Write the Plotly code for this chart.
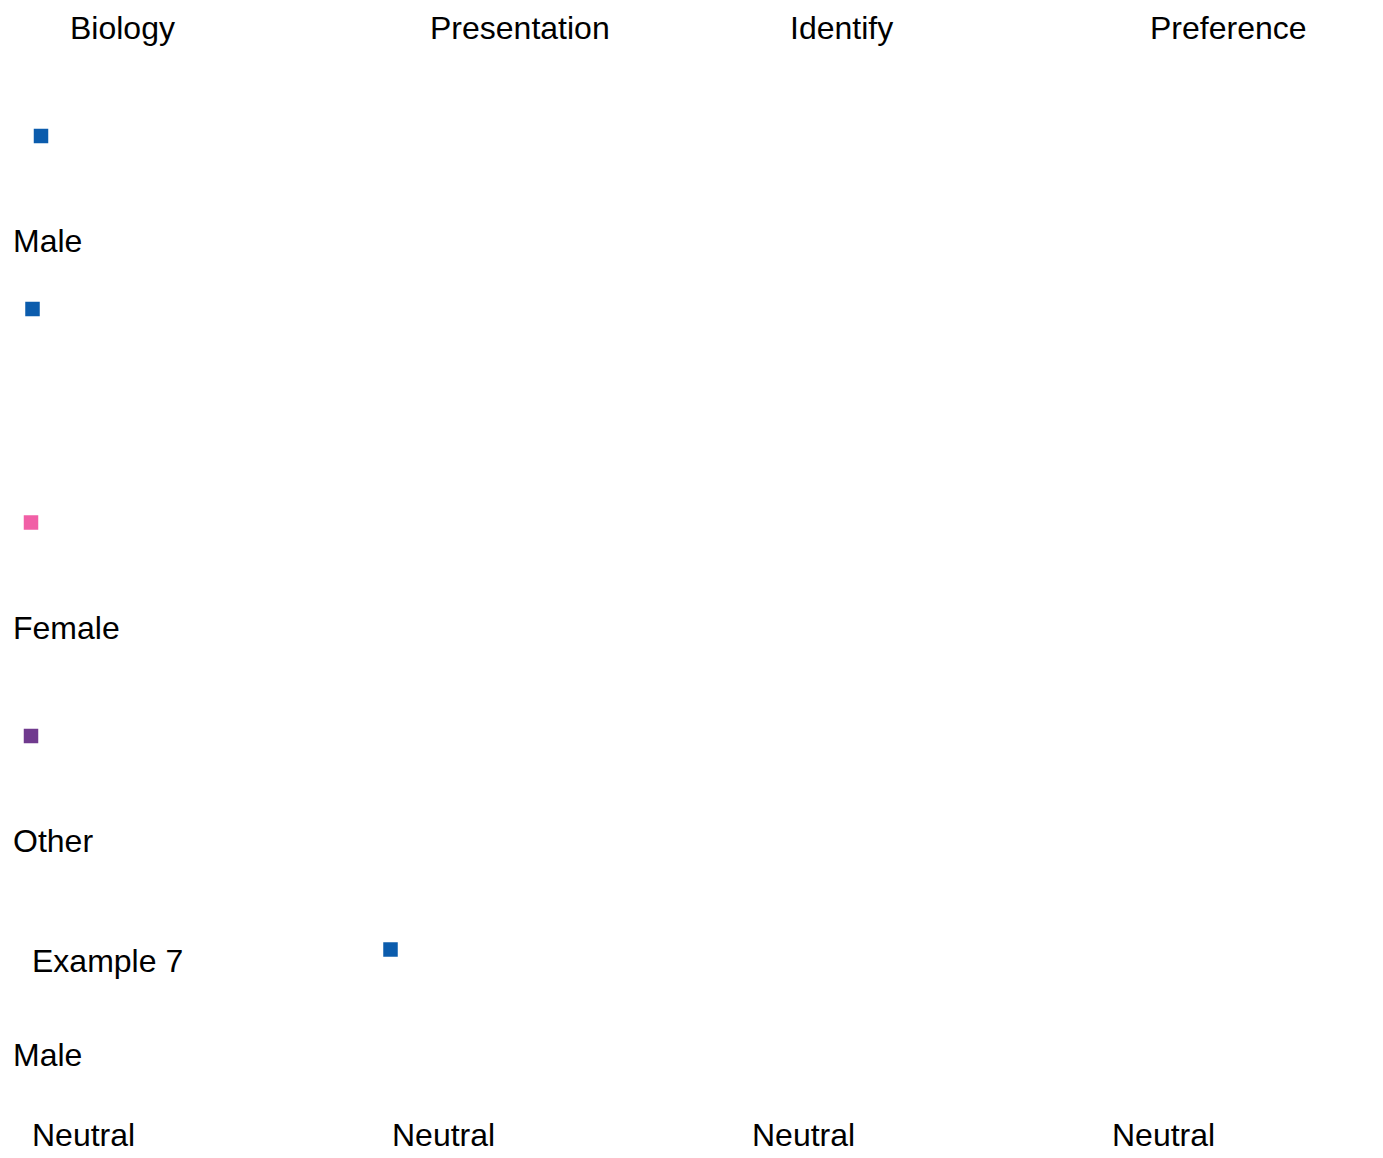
import plotly.graph_objects as go

# Column headers (top) and scale labels (bottom)
columns = ["Biology", "Presentation", "Identify", "Preference"]
bottom_labels = ["Neutral", "Neutral", "Neutral", "Neutral"]

# Row labels
row_labels = ["Male", "Female", "Other", "Male"]
example_label = ["Example 7"]

# Marker values (positions on the hidden canvas axes)
marker_x = [33, 24.5, 23, 23, 382.5]
marker_y = [128, 301, 514.5, 728, 941.5]
marker_colors = ["#0b5cad", "#0b5cad", "#f15fa6", "#703a8e", "#0b5cad"]

W, H = 1383, 1158
FONT = dict(family="Liberation Sans, Arial, sans-serif", size=32, color="#000000")

col_left = [62 + 360 * i for i in range(len(columns))]
bottom_left = [24 + 360 * i for i in range(len(bottom_labels))]
row_y = [236, 623, 836, 1050]

fig = go.Figure()

fig.add_trace(go.Scatter(x=col_left, y=[23] * len(columns), text=columns, mode="text",
                         textposition="middle right", textfont=FONT, hoverinfo="skip"))
fig.add_trace(go.Scatter(x=bottom_left, y=[1130] * len(bottom_labels), text=bottom_labels,
                         mode="text", textposition="middle right", textfont=FONT, hoverinfo="skip"))
fig.add_trace(go.Scatter(x=[5] * len(row_labels), y=row_y, text=row_labels, mode="text",
                         textposition="middle right", textfont=FONT, hoverinfo="skip"))
fig.add_trace(go.Scatter(x=[24], y=[956], text=example_label, mode="text",
                         textposition="middle right", textfont=FONT, hoverinfo="skip"))
fig.add_trace(go.Scatter(x=marker_x, y=marker_y, mode="markers",
                         marker=dict(symbol="square", size=14.5, color=marker_colors, line=dict(width=0)),
                         hoverinfo="skip"))

fig.update_layout(
    width=W, height=H, autosize=False,
    margin=dict(l=0, r=0, t=0, b=0),
    paper_bgcolor="white", plot_bgcolor="white",
    showlegend=False,
    xaxis=dict(range=[0, W], visible=False, fixedrange=True),
    yaxis=dict(range=[H, 0], visible=False, fixedrange=True),
)

fig.write_html("out.html", config={"displayModeBar": False})
